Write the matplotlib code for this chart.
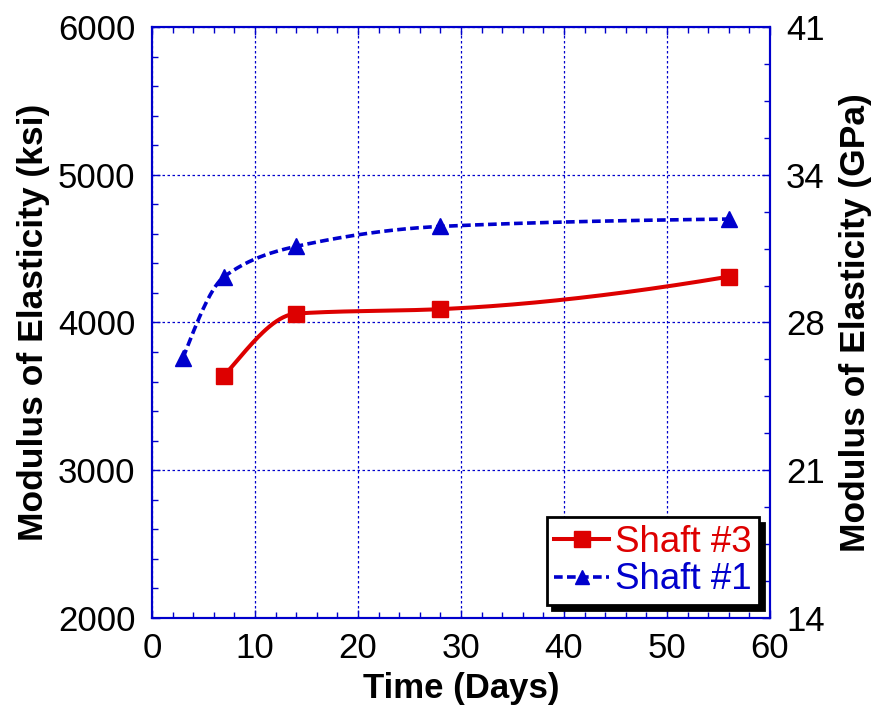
import numpy as np
import matplotlib.pyplot as plt
from matplotlib.ticker import MultipleLocator, FixedLocator

plt.rcParams['font.family'] = ['Liberation Sans', 'DejaVu Sans']

# data
days_s3 = [7, 14, 28, 56]
ksi_s3 = [3640, 4060, 4090, 4310]
days_s1 = [3, 7, 14, 28, 56]
ksi_s1 = [3760, 4310, 4515, 4650, 4700]

gpa_ticks = [2000, 3000, 4000, 5000, 6000]
gpa_labels = ['14', '21', '28', '34', '41']


def smooth(x, y, n=300):
    # piecewise cubic hermite through the points (drawn line only)
    x = np.asarray(x, float)
    y = np.asarray(y, float)
    h = np.diff(x)
    d = np.diff(y) / h
    m = np.zeros_like(y)
    for k in range(1, len(x) - 1):
        if d[k - 1] * d[k] > 0:
            w1 = 2 * h[k] + h[k - 1]
            w2 = h[k] + 2 * h[k - 1]
            m[k] = (w1 + w2) / (w1 / d[k - 1] + w2 / d[k])
    m[0] = ((2 * h[0] + h[1]) * d[0] - h[0] * d[1]) / (h[0] + h[1])
    m[-1] = ((2 * h[-1] + h[-2]) * d[-1] - h[-1] * d[-2]) / (h[-1] + h[-2])
    if m[-1] * d[-1] <= 0:
        m[-1] = 0.5 * d[-1]
    xs = np.linspace(x[0], x[-1], n)
    idx = np.clip(np.searchsorted(x, xs) - 1, 0, len(x) - 2)
    t = (xs - x[idx]) / h[idx]
    h00 = 2 * t**3 - 3 * t**2 + 1
    h10 = t**3 - 2 * t**2 + t
    h01 = -2 * t**3 + 3 * t**2
    h11 = t**3 - t**2
    ys = h00 * y[idx] + h10 * h[idx] * m[idx] + h01 * y[idx + 1] + h11 * h[idx] * m[idx + 1]
    return xs, ys


red = '#DD0000'
blue = '#0000CC'
dash = (0, (2.4, 1.2))

fig = plt.figure(figsize=(8.74, 7.11), dpi=100)
ax = fig.add_axes([0.174, 0.131, 0.707, 0.831])

xs, ys = smooth(days_s3, ksi_s3)
ax.plot(xs, ys, color=red, lw=2.9)
xs, ys = smooth(days_s1, ksi_s1)
ax.plot(xs, ys, color=blue, lw=2.6, ls=dash)
ax.plot(days_s3, ksi_s3, 's', color=red, ms=11.5)
ax.plot(days_s1, ksi_s1, '^', color=blue, ms=11)

# legend handles
h3, = ax.plot([], [], '-s', color=red, lw=2.9, ms=11, label='Shaft #3')
h1, = ax.plot([], [], '^', color=blue, ls=dash, lw=2.6, ms=10, label='Shaft #1')

ax.set_xlim(0, 60)
ax.set_ylim(2000, 6000)
ax.xaxis.set_major_locator(MultipleLocator(10))
ax.xaxis.set_minor_locator(MultipleLocator(2))
ax.yaxis.set_major_locator(MultipleLocator(1000))
ax.yaxis.set_minor_locator(MultipleLocator(200))
ax.grid(True, which='major', color=blue, ls=(0, (2, 2)), lw=0.9)
ax.tick_params(which='both', direction='in', colors=blue, labelcolor='black',
               labelsize=25, top=True)
ax.tick_params(which='major', length=6, width=1)
ax.tick_params(which='minor', length=4, width=1)
ax.tick_params(axis='x', pad=10)
ax.tick_params(axis='y', pad=12)
for s in ax.spines.values():
    s.set_color(blue)
    s.set_linewidth(1.5)

ax.set_xlabel('Time (Days)', fontsize=25, fontweight='bold', labelpad=5)
ax.set_ylabel('Modulus of Elasticity (ksi)', fontsize=25.5, fontweight='bold', labelpad=6)

ax2 = ax.twinx()
ax2.set_ylim(2000, 6000)
ax2.yaxis.set_major_locator(FixedLocator(gpa_ticks))
ax2.yaxis.set_minor_locator(MultipleLocator(250))
ax2.set_yticklabels(gpa_labels)
ax2.tick_params(which='both', direction='in', colors=blue, labelcolor='black',
                labelsize=25, pad=11.5)
ax2.tick_params(which='major', length=6, width=1)
ax2.tick_params(which='minor', length=4, width=1)
for s in ax2.spines.values():
    s.set_color(blue)
    s.set_linewidth(1.5)
ax2.set_ylabel('Modulus of Elasticity (GPa)', fontsize=25.5, fontweight='bold', labelpad=10)

leg = ax2.legend(handles=[h3, h1], loc='lower right', bbox_to_anchor=(0.982, 0.022),
                 fontsize=26.5, frameon=True, fancybox=False, edgecolor='black',
                 framealpha=1, handlelength=1.5, handletextpad=0.15, borderpad=0.2,
                 labelspacing=0.08, borderaxespad=0,
                 shadow={'ox': 4, 'oy': -4, 'color': 'black', 'alpha': 1})
leg.get_frame().set_linewidth(2)
leg.texts[0].set_color(red)
leg.texts[1].set_color(blue)

fig.savefig('out.png', dpi=100)
